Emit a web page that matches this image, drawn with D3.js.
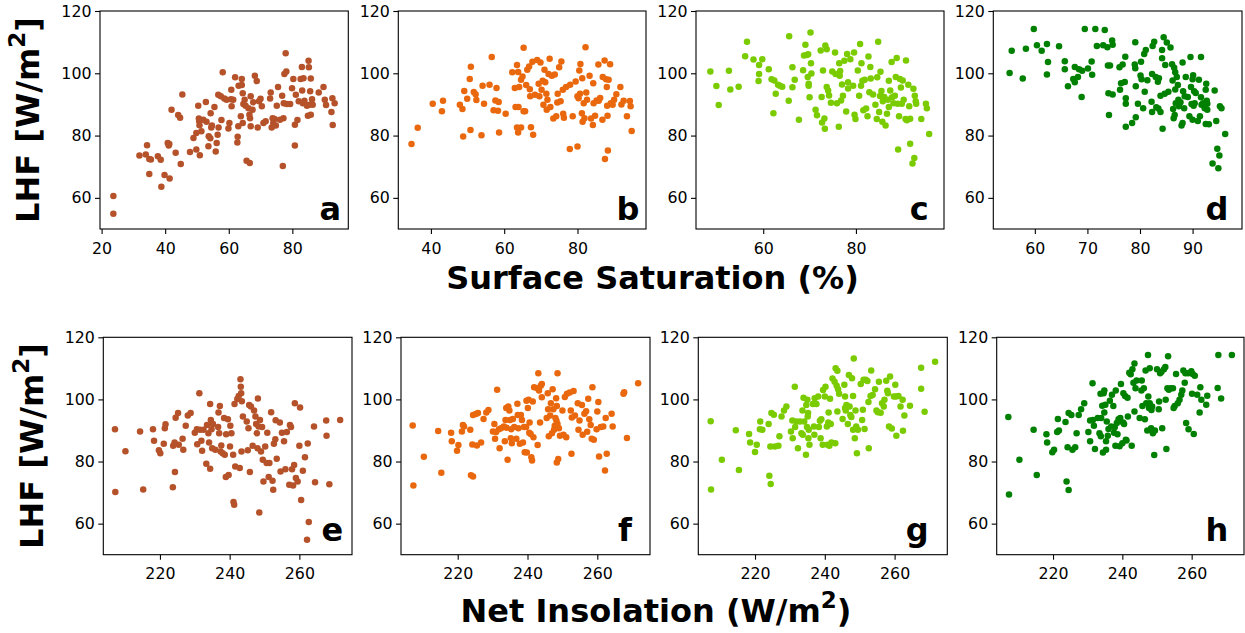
<!DOCTYPE html>
<html>
<head>
<meta charset="utf-8">
<script src="https://cdn.jsdelivr.net/npm/d3@7"></script>
<style>
  body { margin: 0; background: #fff; }
  svg { display: block; font-family: "DejaVu Sans", sans-serif; }
</style>
</head>
<body>
<script>

// ---- data: [x, LHF] pairs ----

// row 1: surface saturation (%) vs LHF
var satA = [[23.7,60.6],[23.7,54.9],[31.9,73.6],[33.9,73.9],[34.3,76.9],[35,72.5],[35.5,72.3],[35,67.7],[37.7,73.4],[38.6,72.2],[38.8,63.6],[39.8,67.3],[40.8,77.6],[41.3,77.3],[41.4,66.2],[41.1,76.8],[42,88.3],[43.3,74.5],[44.1,86.6],[44.7,85.7],[44.9,70.9],[45.4,93.2],[47.8,74.7],[48.9,79.2],[49.8,75.5],[49.8,80.8],[50.4,89.6],[50.6,85.5],[50.7,84.6],[50.8,83.3],[50.9,73.7],[51.4,81.4],[52,85.1],[52.8,90.8],[53,84.4],[53.7,79.8],[53.6,76.6],[54.2,79.1],[54.3,87.2],[54.5,82.6],[54.7,83.2],[55.5,89.2],[55.9,74.9],[56.2,77.6],[56.5,80.3],[56.7,93.1],[56.8,82.6],[57.5,92.6],[57.7,85],[58.1,100.3],[58.6,91.9],[59.3,91.5],[59.9,82.3],[60.2,84],[60.7,91.7],[60.8,94.7],[60.9,89.4],[61.4,91.5],[62,98.7],[62.7,77.8],[62.8,79.6],[63,83],[63.1,96],[63.8,86.2],[64.1,98.2],[64.1,96.2],[64.4,93.6],[64.4,84],[64.6,90.1],[65,91.5],[65.3,89.6],[65.6,71.9],[66.2,88.8],[66.5,86.7],[66.6,71.2],[66.7,85.6],[66.9,83],[66.9,92.6],[67.5,88.3],[67.7,90.7],[68.2,99.2],[68.8,97.5],[69.1,82.6],[69.5,91],[70,91.8],[70.4,89.4],[70.9,84],[71.6,84.6],[73,91.9],[73.2,93.8],[73.5,82.6],[73.8,85.6],[74,84],[74.4,85.3],[74.8,83.2],[75.1,89.6],[75.5,95.6],[76.1,85.1],[76.8,92.8],[77,70.2],[77.2,85.6],[77.3,90.4],[77.5,99.8],[77.9,106.4],[78.1,100.6],[78.2,90.1],[79.3,90.1],[79.9,95.2],[80.3,98.2],[80.8,76.8],[80.8,83.5],[81.1,93.1],[81.6,85],[82,91],[82.6,98.2],[83,102],[83.1,94.5],[83.3,90.4],[83.5,98.4],[83.8,91.2],[84.6,89.6],[84.9,86.4],[85.1,104],[85.2,101.9],[85.4,89.9],[85.6,94.2],[85.8,98.3],[85.8,86.7],[86.2,91.7],[86.4,89.9],[88.3,93.8],[89.8,95.6],[90.2,91.5],[90.6,89.8],[92.3,87.6],[92.6,92],[92.7,83.4],[93.3,90.4]];

var satB = [[34.7,77.3],[36.4,82.5],[40.5,90.2],[43,87.8],[43.3,91.2],[47.9,89.9],[48.6,88.5],[48.8,79.7],[49.1,94.3],[49.9,91.8],[50.6,98.2],[50.9,102.1],[50.8,81.8],[51.7,94],[52.2,93.3],[52.4,91.4],[53.8,80.1],[54.1,96],[54.5,90.2],[56,96.3],[56.6,105.2],[57.1,88.1],[57.6,91.3],[57.9,95.3],[58.3,88],[58.5,90.8],[58.6,81],[60.4,87],[62.2,100.3],[62.9,95.3],[63.1,89.2],[63.5,102.7],[63.5,82.6],[63.8,81],[63.8,100.4],[63.9,89.2],[64.1,95.6],[64.6,82.6],[64.6,97.9],[65,99],[65.3,108.2],[65.3,87.8],[65.7,87.8],[66,96.2],[66.3,101.1],[66.8,102.2],[67,94.9],[67.1,92.6],[67.3,82.7],[67.7,103.7],[67.9,80.3],[68.4,93.1],[69,104.3],[69.4,96.6],[69.6,92.6],[69.9,103.5],[70.2,94.7],[70.5,97.6],[70.7,89.9],[71,101.1],[71.2,97.1],[71.5,93.4],[71.6,88.3],[71.8,91.5],[72.1,99.8],[72.4,104.7],[72.6,89.2],[73,99.2],[73.4,85.5],[73.8,99.6],[74.2,86.2],[74.5,90.6],[74.6,93.4],[75,101.9],[75.4,91],[75.6,103.8],[76,94.7],[76.1,87],[76.3,85.7],[76.9,95.6],[77.9,75.7],[78,96.3],[78.7,86.2],[79.5,97.4],[80,92.6],[80,76.5],[80.3,92],[80.5,100.9],[80.7,93.4],[80.8,103],[81.2,87.2],[81.3,98.4],[81.4,84.4],[81.7,90.4],[81.9,85.6],[82.2,108.4],[82.4,93.8],[82.6,91.5],[83.3,99.2],[83.7,85.5],[84.2,83.4],[84.3,96.8],[84.4,90.4],[84.8,86.4],[85.2,91.3],[85.7,102.8],[85.8,91.2],[86.2,92.1],[86.9,98.8],[86.8,85.1],[87.4,104.1],[87.5,72.5],[87.8,98.1],[88,95.6],[88.1,89.6],[88.2,86.4],[88.3,75.2],[88.5,97.9],[88.9,102.9],[89.1,90.4],[89.6,89.9],[90,91.5],[90.6,93.3],[91.7,95.6],[92,90],[92.6,91.2],[93.5,86.2],[94.3,91.1],[94.5,89.4],[94.8,81.5]];

var satC = [[48.6,100.6],[49.9,95.9],[50.4,89.8],[52.6,100.8],[52.9,94.8],[54.7,95.7],[56.1,105.5],[56.5,110.1],[57.9,104.4],[59,97.5],[59.1,102.7],[59.1,99.8],[59.8,104.5],[61.2,101.3],[61.8,98.1],[62.2,87.2],[62.4,97.7],[62.7,93.4],[63.2,96.3],[63.6,96],[64.1,95.7],[65.5,91.2],[65.6,111.9],[66.3,95.5],[66.3,101.9],[66.8,97.9],[67.7,85.1],[68.6,101],[68.8,105.7],[69.1,109.2],[69.4,105.9],[69.7,106.1],[69.6,98.8],[69.8,96.6],[69.8,96],[70,92.3],[70.2,113.1],[70.3,103.2],[70.4,99.9],[71.3,88.3],[71.6,86.5],[72.4,107.3],[72.6,92.4],[72.7,84.2],[72.9,100.9],[73.2,85.5],[73.3,82.2],[73.4,108.9],[73.7,107.7],[73.7,95.6],[74,94.5],[74.2,92.9],[74.6,90.5],[74.9,100.6],[75.5,106.7],[75.6,99.8],[75.9,90.4],[76.3,82.8],[76.4,103.2],[76.5,99.2],[76.6,100.7],[76.8,91.3],[77,96.4],[77.2,92.8],[77.5,104],[77.9,87.7],[78.1,106.2],[78.3,97.1],[78.3,95.1],[78.8,104.5],[79.4,96],[79.6,106.7],[79.7,86.7],[79.9,85.3],[80.4,100.9],[80.7,92.8],[80.9,109.4],[81.1,96],[81.2,103.2],[81.4,97.6],[81.6,88.1],[81.9,97.9],[82.2,88.7],[82.5,86.2],[82.7,105.4],[82.9,93.9],[83.1,102],[83.2,98.3],[83.7,93.2],[84.2,89.9],[84.5,85.3],[84.6,98.7],[84.8,110.1],[85,87.6],[85.2,92.7],[85.3,100.5],[85.5,94.3],[85.7,84.4],[85.8,91],[86.1,92.4],[86.4,83.2],[86.7,87],[86.9,91.5],[87.1,89.2],[87.1,97.6],[87.4,94.5],[87.7,103.6],[87.8,92.3],[88.1,90.4],[88.4,92.8],[88.6,98.8],[88.8,104.9],[89,90.2],[89.1,75.5],[89.3,86.2],[89.5,98.2],[89.7,95.4],[89.9,90.2],[90.1,97.7],[90.3,91.5],[90.8,104.1],[90.7,85.3],[91,84.9],[91.3,96.3],[91.5,89.4],[91.7,85.4],[91.7,77.4],[92.2,71],[92.4,95],[92.6,72.8],[92.7,92.8],[92.9,91],[93,90.2],[94.1,85.3],[95.1,90.2],[95.3,88.8],[95.8,80.5]];

var satD = [[55.2,100.1],[55.6,107.2],[57.7,98.3],[58.3,107.9],[59.8,114.2],[60.4,109],[61.3,107.2],[62.3,109.4],[62.3,99.6],[62.5,103.6],[64.6,108.7],[65.7,103.9],[65.7,101.3],[66.3,95.8],[67.3,98.2],[67.6,97.1],[67.6,102],[68.2,98.8],[68.4,101.3],[68.9,92.4],[69,100.8],[69.5,114.2],[70.1,101.5],[70.8,103.8],[70.9,99.5],[71.5,114.2],[71.8,108.8],[73,109],[73.3,113.9],[73.8,108.4],[73.9,102.5],[74,93.6],[74.1,86.6],[74.3,102.5],[74.7,110.5],[74.8,93.2],[74.8,109.2],[76.1,101.9],[76.2,94.7],[76.4,96.8],[76.7,102.8],[77.1,97.2],[77.2,105.3],[77.3,90.2],[77.3,92],[77.3,82.8],[78.5,84],[79,102.8],[79.1,110],[79.1,101.6],[79.2,85.9],[79.2,95.8],[79.6,90.2],[80.1,99.3],[80.2,103.7],[80.3,98.1],[80.6,88.8],[80.8,106.2],[80.9,94.1],[81.1,107.5],[81.4,97.8],[82.2,90.9],[82.3,87.6],[82.3,99.8],[82.4,108.8],[82.7,110.1],[83,98.8],[83.1,89.1],[83.4,97.3],[83.5,88.7],[83.6,98.4],[83.9,92.8],[83.9,87.6],[84.2,107.5],[84.2,104.8],[84.3,82.2],[84.5,111.6],[84.7,93.4],[84.8,102.7],[85.1,109.9],[85.4,94.1],[85.8,108.3],[86.1,102.9],[86.2,97.7],[86.3,88.5],[86.4,85.6],[86.5,101.8],[86.6,86.6],[86.7,94.8],[86.7,100.3],[86.8,90.4],[87,98.8],[87.2,96.2],[87.3,91.5],[87.4,89.4],[87.7,90.7],[87.9,83.2],[88.1,84],[88.1,103.5],[88.2,94.2],[88.4,88.8],[88.5,92.6],[88.7,98.8],[89.1,92.4],[89.4,86.2],[89.6,105.2],[89.7,95.6],[89.8,90.1],[90,85.1],[90,98.1],[90.1,99.4],[90.2,89.6],[90.3,94.2],[90.4,90.4],[90.6,93.7],[91,84.7],[91.2,97.9],[91.4,86.2],[91.6,105.2],[91.6,92.3],[91.7,89.9],[92,90.4],[92.3,88.8],[92.5,94.7],[92.6,96.6],[92.7,91.2],[92.8,88.3],[92.8,90.2],[92.5,83.7],[93.1,83.6],[94.2,94.5],[93.8,71],[94.5,84.7],[94.7,75.8],[94.9,69.5],[95.1,73.6],[95.2,89.4],[95.5,88.8],[96.2,80.5]];

// row 2: net insolation (W/m2) vs LHF
var insE = [[207.1,90.4],[207.2,70.2],[210.1,83.3],[214.3,89.7],[215.2,71],[218,90.4],[218.3,86.7],[219.7,83.6],[220.1,82.7],[221.1,85.7],[221.4,90.7],[221.6,92],[223.7,71.7],[223.8,85.1],[224.2,86.1],[224.3,76.6],[224.5,94.1],[225.2,95.6],[225.4,85.4],[226.5,87.3],[226.7,83.8],[227.4,91.5],[228,94.8],[228.8,95.6],[230,89.3],[230.6,90.4],[230.7,85.6],[231.3,102],[231.5,90.2],[231.9,86.7],[232.1,83.5],[232.5,90.2],[233.3,79.3],[233.5,91.8],[233.9,89.1],[234.1,86.1],[234.4,98.5],[234.4,77.7],[234.6,93.4],[234.8,90.4],[235,84.3],[235.2,92.1],[235.9,83.8],[236.7,91.1],[236.8,95.8],[237,89.1],[237.2,97.9],[237.4,83.2],[237.6,85.2],[238,82.7],[238.4,94],[238.6,82.2],[238.9,75],[239,88.8],[239.5,93.6],[239.7,75.7],[240.1,84.8],[240.2,91.5],[240.5,89.1],[241,82.2],[241.1,67],[241.3,66.1],[241.4,98.5],[241.6,78.4],[242.2,100.1],[242.6,101.1],[242.9,77.9],[243.1,106.5],[243.2,104.1],[243.3,102],[243.4,83.2],[243.5,99.4],[243.8,94.5],[244.9,92.9],[245.2,83.6],[245.4,90.7],[245.6,98.2],[245.8,76.6],[246.1,97.7],[246.6,85.1],[247,96.4],[247.4,94.5],[247.6,92.1],[247.8,89.1],[248,84.3],[248.1,100.3],[248.3,91.3],[248.5,63.6],[248.7,93.4],[249,83.2],[249.3,91.1],[249.5,80.6],[249.7,73.6],[250.2,84.8],[250.6,79.5],[250.8,89.3],[251.2,75],[251.4,79.5],[251.9,95.9],[252.3,73.8],[252.5,70.9],[252.7,85.7],[253.1,87.2],[253.2,93.3],[253.5,80.9],[254.4,92.6],[254.6,76.8],[255,89.3],[255.6,86.5],[256,77.5],[256.4,89.5],[257.1,72.5],[257.3,91.8],[257.6,91.1],[257.9,77.5],[258.2,72.3],[258.5,78.9],[258.7,98.8],[259,74.7],[259.5,73.6],[260,85.1],[260.2,97.4],[260.5,67.6],[261,77],[261.6,81.4],[262.4,85.8],[262.7,60.5],[262.2,54.8],[264.2,91.3],[264.5,73.3],[267.7,93.2],[267.8,88.3],[268.6,72.7],[271.7,93.4]];

var insF = [[207.1,91.6],[207.3,72.3],[210.3,81.5],[214.4,89.8],[215.3,76.4],[218.1,89.3],[218.3,86.5],[219.8,83.5],[220.2,85.3],[221.2,89.7],[221.5,91.8],[221.8,91.3],[223.6,90.2],[223.8,75.6],[224.2,85.5],[224.4,75.2],[224.4,95],[225.2,95.3],[225.5,85.2],[225.8,95.6],[226.7,86.1],[227.4,93.7],[228.2,95.8],[228.8,96.6],[230.1,89.7],[230.5,92.1],[230.7,87.3],[231,89.5],[231.3,103.1],[231.8,90.4],[232,84.3],[232.4,90.7],[233.2,91.3],[233.5,86.5],[233.7,93.4],[233.9,97.2],[234,90.9],[234.3,80.6],[234.5,97.7],[234.8,96.4],[235,93.4],[235.2,87.5],[235.3,90.4],[235.5,85.9],[235.8,93.7],[236.2,91.1],[236.8,87.3],[237.1,98.6],[237.2,95],[237.4,90.7],[237.8,85.7],[238.1,95],[238.4,93.4],[238.7,86.1],[239,91.1],[239.2,83],[239.6,91.1],[239.7,99.6],[239.8,82.9],[240.1,97.2],[240.3,99.9],[240.5,89.3],[240.6,92.6],[240.9,88.9],[241.1,81.4],[241.3,80.3],[241.5,99.3],[241.7,87.8],[241.9,103.9],[242.8,103.6],[242.9,85.3],[243.1,108.4],[243.3,102.9],[243.6,92.6],[243.8,104.4],[244.1,105],[244.1,100.7],[245.5,94],[245.8,102],[245.9,96.8],[246.1,88.1],[246.5,94.8],[246.7,98.8],[247,89.1],[247.2,103.3],[247.4,96.8],[247.6,90.2],[247.8,91.5],[248,94],[248.2,100.4],[248.4,97.9],[248.6,108.4],[248.3,93.1],[248.4,79.7],[248.6,92.1],[248.8,80.8],[249,90.7],[249.3,88.3],[250,96.4],[250.3,88.6],[250.7,100.8],[251.1,87.8],[251.3,101.8],[252.1,102.2],[252.4,96.4],[252.6,82.5],[252.7,94.2],[253.2,102.7],[253.6,94.8],[254.4,98.8],[254.6,90.2],[254.9,93.2],[255.6,98.2],[255.8,88.6],[256.3,95.4],[256.8,96.2],[257.1,89.6],[257.4,100.2],[257.7,93.6],[258.1,91.8],[258.4,87.3],[258.6,103.9],[259,87],[259.8,90.4],[260,96.1],[260.3,99.2],[260.5,81.6],[261,91.1],[261.7,91.3],[262.2,77.1],[262.4,94],[262.7,82.5],[264.1,95.4],[264.4,91.3],[267.5,101.8],[267.7,102.3],[268.5,87.6],[271.7,105.2]];

var insG = [[207.3,93],[207.4,71],[210.5,80.6],[214.5,90.1],[215.4,77.3],[218.3,88.9],[218.6,86.1],[220,83.1],[220.5,85.4],[221.5,92.9],[221.4,90.4],[222.1,90.2],[223.9,92.1],[224.1,75.4],[224.4,84.8],[224.5,72.8],[224.7,95.6],[225.4,95.1],[225.7,84.8],[226.7,85.1],[227,88.1],[227.6,94.5],[228.3,96.4],[229,97.7],[230.3,89.7],[230.7,93.2],[230.8,87.5],[231.4,104.1],[231.5,91.1],[231.9,92.9],[232.3,84.3],[232.9,92.9],[233.3,89.1],[233.6,96.4],[233.7,88.6],[233.9,100.5],[234.1,92.9],[234.6,82.2],[234.7,98.2],[234.9,91.1],[235,99.9],[235.2,95.6],[235.1,94.5],[235.3,87.5],[235.4,90.2],[235.6,85.4],[236.6,98.5],[236.9,91.3],[237,88.6],[237.1,100.4],[237.6,98.5],[238.1,100.9],[238.3,91.1],[238.6,93.1],[238.8,87.5],[239,93.6],[239.4,85.4],[239.5,103],[240,100.9],[240.2,104.1],[240.6,91.3],[240.8,85.4],[241,92.6],[241.1,95.8],[241.3,85.1],[241.5,100.2],[241.7,92.1],[241.9,86.1],[242.2,106.7],[242.8,105.7],[243,85.9],[243.1,110],[243.4,104.4],[243.6,109.2],[243.6,96.1],[243.8,103.3],[244.1,101.8],[245.1,93.7],[245.6,104.7],[245.8,100.9],[245.8,97.2],[246,96.4],[246.2,98.2],[246.6,92.1],[246.9,107.9],[247.1,97.7],[247.3,95],[247.6,94.3],[247.8,106.8],[248.1,101.1],[248.1,90.2],[248.3,113.2],[248.6,87.5],[248.8,96.4],[249,91.3],[249.2,82.7],[249.5,90.2],[250.3,105],[250.7,93.4],[250.9,96.7],[251.1,106.3],[251.4,90.5],[251.7,106.3],[252.2,105.9],[252.5,99.2],[252.6,84.3],[253.1,101.1],[253.3,109.3],[253.7,101.4],[254.4,103.3],[254.8,96.4],[255.2,95.9],[255.5,105.7],[256,95.7],[256.4,98.8],[256.9,97.7],[257.1,99.9],[257.6,106],[257.9,102.8],[258.1,102],[258.4,91.3],[258.7,107.4],[259.2,90.6],[259.8,100.9],[260.2,104.7],[260.4,100.9],[260.5,88.3],[261.1,101.1],[261.7,97.7],[262.3,99.9],[262.4,89.9],[262.8,94.8],[264.4,98],[267.6,110.2],[267.6,103.4],[268.6,96],[271.6,112.1]];

var insH = [[207.1,94.3],[207.3,69.4],[210.3,80.6],[214.4,90.2],[215.3,75.7],[218.1,88.8],[218.3,86.1],[219.8,83],[220.3,83.8],[221.2,89.5],[221.4,93.7],[221.7,90],[223.6,92.7],[223.9,73.6],[224.2,84.6],[224.5,70.8],[224.5,95.6],[225.3,95],[225.6,83.8],[226.4,84.6],[226.8,89.1],[227.4,95],[228.1,96.8],[229,98.8],[230.2,89.5],[230.7,93.2],[230.7,86.5],[231.4,105.2],[231.5,93.4],[231.8,91.5],[232.1,84],[232.9,94],[233.4,89.1],[233.7,101.8],[233.8,88.1],[233.9,94],[234.2,98],[234.4,82.9],[234.6,102],[234.8,102.9],[234.8,95.8],[235.1,98.3],[235.3,83.8],[235.3,86.5],[235.5,92.9],[235.8,88.3],[236,90.5],[236.4,99.6],[236.8,91.3],[237,101.5],[237.4,97.9],[237.6,89.3],[237.8,91],[238,85.1],[238.1,102.9],[238.4,92.4],[238.6,88.8],[238.9,93.6],[239.2,84.9],[239.4,94],[239.6,105],[240,85.9],[240.2,92.6],[240.3,102],[240.5,92.1],[240.8,101.1],[241,87],[241.2,86.8],[241.5,100.5],[241.6,94.5],[242,108.6],[242.4,108.1],[242.7,85.1],[242.9,109.7],[243.2,105.4],[243.5,111.6],[243.5,96.1],[243.8,103.6],[244.1,106.1],[245,94],[245.5,102.9],[245.6,106.1],[245.8,97.9],[246.2,103.6],[246.5,93.6],[246.7,109.3],[246.9,98.8],[247.2,90],[247.4,114.3],[247.5,100.9],[247.7,97.2],[247.9,98.8],[247.9,110],[248.3,90.7],[248.4,96.6],[248.6,97.7],[248.8,89.1],[249.2,82.1],[249.4,90],[250,109.7],[250.5,96.8],[250.6,99.3],[250.9,108.4],[251.3,108.9],[251.5,90.7],[252,109.7],[252.4,110.4],[252.5,99.9],[252.7,84],[253,103.6],[253.2,113.9],[253.4,103.1],[254,103.6],[254.6,103.6],[254.8,97.2],[255.1,97.9],[255.5,108.2],[256,98.8],[256.5,99.9],[257,101.5],[257.3,102.9],[257.6,109.3],[258,105.4],[258.2,108.4],[258.4,92.4],[259,108.4],[259.1,90.4],[259.9,109.1],[260.1,101.8],[260.3,108.2],[260.6,88.9],[260.9,107.6],[261.6,101.5],[262.3,95.8],[262.5,103.9],[262.8,99.9],[264.2,98.3],[264.5,101.2],[267.5,103.7],[267.7,114.3],[268.5,100.3],[271.6,114.3]];

// ticks and axis limits
var lhfTicks = [60, 80, 100, 120];
var lhfLimits = [50, 120];
var satTicksA = [20, 40, 60, 80];
var satTicksB = [40, 60, 80];
var satTicksC = [60, 80];
var satTicksD = [60, 70, 80, 90];
var insTicks = [220, 240, 260];
var panelLetters = ["a", "b", "c", "d", "e", "f", "g", "h"];

// group colours: brown, orange, yellow-green, green
var colors = ["#b5522a", "#e9680e", "#7acc00", "#008000"];

/* ********* layout ********* */

var rows = [
	{ top: 11, bottom: 229 },
	{ top: 337.3, bottom: 554.7 }
];

var panels = [
	{ pts: satA, row: 0, left: 100,   right: 348.3, lim: [19.5, 97.6],     ticks: satTicksA, color: colors[0], lx: 7.3 },
	{ pts: satB, row: 0, left: 398.3, right: 646,   lim: [31.1, 98.7],     ticks: satTicksB, color: colors[1], lx: 6.7 },
	{ pts: satC, row: 0, left: 696,   right: 944,   lim: [45.5, 99.0],     ticks: satTicksC, color: colors[2], lx: 15.3 },
	{ pts: satD, row: 0, left: 993.3, right: 1242,  lim: [52.1, 99.4],     ticks: satTicksD, color: colors[3], lx: 13.7 },
	{ pts: insE, row: 1, left: 103.3, right: 352,   lim: [203.75, 275.1],  ticks: insTicks,  color: colors[0], lx: 8.7 },
	{ pts: insF, row: 1, left: 401,   right: 650,   lim: [203.75, 275.1],  ticks: insTicks,  color: colors[1], lx: 18 },
	{ pts: insG, row: 1, left: 698.3, right: 947.3, lim: [203.75, 275.1],  ticks: insTicks,  color: colors[2], lx: 18.6 },
	{ pts: insH, row: 1, left: 996.7, right: 1244,  lim: [203.75, 275.1],  ticks: insTicks,  color: colors[3], lx: 15.7 }
];

var svg = d3.select("body")
	.append("svg")
	.attr("width", 1245)
	.attr("height", 633);

panels.forEach(function(p, i) {

	var top = rows[p.row].top,
		bottom = rows[p.row].bottom;

	var x = d3.scaleLinear().domain(p.lim).range([p.left, p.right]);
	var y = d3.scaleLinear().domain(lhfLimits).range([bottom, top]);

	var g = svg.append("g");

	// dots
	g.append("g")
		.selectAll("circle")
		.data(p.pts)
		.join("circle")
		.attr("cx", d => x(d[0]))
		.attr("cy", d => y(d[1]))
		.attr("r", 3.25)
		.attr("fill", p.color);

	// x axis
	var xa = g.append("g")
		.attr("transform", "translate(0," + bottom + ")")
		.call(d3.axisBottom(x).tickValues(p.ticks).tickSize(5).tickPadding(8.5).tickSizeOuter(0));

	// y axis
	var ya = g.append("g")
		.attr("transform", "translate(" + p.left + ",0)")
		.call(d3.axisLeft(y).tickValues(lhfTicks).tickSize(5).tickPadding(3.5).tickSizeOuter(0));

	[xa, ya].forEach(function(a) {
		a.attr("font-family", "DejaVu Sans").attr("font-size", 15.8);
		a.select(".domain").remove();
		a.selectAll("line").attr("stroke", "#000").attr("stroke-width", 1.1);
		a.selectAll("text").attr("fill", "#000");
	});

	// frame
	g.append("rect")
		.attr("x", p.left)
		.attr("y", top)
		.attr("width", p.right - p.left)
		.attr("height", bottom - top)
		.attr("fill", "none")
		.attr("stroke", "#000")
		.attr("stroke-width", 1.1);

	// panel letter
	g.append("text")
		.attr("x", p.right - p.lx)
		.attr("y", bottom - (p.row === 0 ? 9 : 14))
		.attr("text-anchor", "end")
		.attr("font-weight", "bold")
		.attr("font-size", 32)
		.text(panelLetters[i]);
});

/* ********* axis titles ********* */

function lhfLabel(bx, cy) {
	var t = svg.append("text")
		.attr("transform", "translate(" + bx + "," + cy + ") rotate(-90)")
		.attr("text-anchor", "middle")
		.attr("font-weight", "bold")
		.attr("font-size", 32);
	t.append("tspan").text("LHF [W/m");
	t.append("tspan").attr("dy", -14).attr("font-size", 23).text("2");
	t.append("tspan").attr("dy", 14).text("]");
}

lhfLabel(39, 120);
lhfLabel(42.5, 446);

svg.append("text")
	.attr("x", 652.5)
	.attr("y", 289)
	.attr("text-anchor", "middle")
	.attr("font-weight", "bold")
	.attr("font-size", 32)
	.text("Surface Saturation (%)");

var nt = svg.append("text")
	.attr("x", 656)
	.attr("y", 622)
	.attr("text-anchor", "middle")
	.attr("font-weight", "bold")
	.attr("font-size", 32);
nt.append("tspan").text("Net Insolation (W/m");
nt.append("tspan").attr("dy", -14).attr("font-size", 23).text("2");
nt.append("tspan").attr("dy", 14).text(")");

</script>
</body>
</html>
